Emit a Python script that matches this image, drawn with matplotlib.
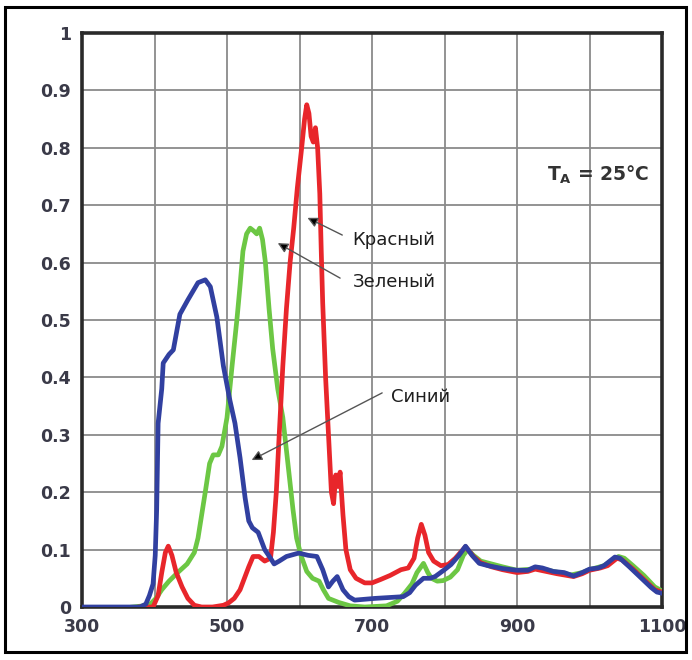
import matplotlib
matplotlib.use("Agg")
import matplotlib.pyplot as plt
from matplotlib.patches import Rectangle

plt.rcParams['font.family'] = ['DejaVu Sans']
plt.rcParams['mathtext.fontset'] = 'custom'
plt.rcParams['mathtext.rm'] = 'DejaVu Sans'
plt.rcParams['mathtext.bf'] = 'DejaVu Sans:bold'

# ---------------- data ----------------
blue_x = [300, 380, 388, 393, 398, 401, 403, 405, 410, 412, 420, 426, 435, 446, 460, 470, 477, 486,
          495, 504, 511, 518, 525, 530, 535, 543, 552, 560, 565, 572, 582, 599, 612, 624, 632, 640,
          646, 652, 660, 668, 676, 704, 743, 752, 760, 771, 780, 787, 800, 809, 820, 829, 838, 848,
          860, 880, 900, 915, 925, 935, 950, 965, 978, 990, 1000, 1012, 1020, 1035, 1042, 1055,
          1070, 1085, 1093, 1100]
blue_y = [0, 0, 0.005, 0.02, 0.04, 0.09, 0.17, 0.32, 0.38, 0.425, 0.44, 0.448, 0.51, 0.535, 0.565,
          0.57, 0.558, 0.505, 0.42, 0.36, 0.32, 0.26, 0.19, 0.15, 0.138, 0.13, 0.1, 0.085, 0.075,
          0.08, 0.088, 0.094, 0.09, 0.088, 0.065, 0.035, 0.045, 0.053, 0.03, 0.018, 0.012, 0.015,
          0.018, 0.025, 0.038, 0.05, 0.05, 0.053, 0.065, 0.074, 0.09, 0.106, 0.09, 0.076, 0.072,
          0.067, 0.064, 0.064, 0.07, 0.068, 0.062, 0.06, 0.054, 0.06, 0.066, 0.068, 0.072, 0.087,
          0.085, 0.07, 0.052, 0.034, 0.026, 0.024]

red_x = [380, 398, 405, 410, 415, 419, 424, 430, 438, 446, 455, 465, 480, 495, 502, 510, 518, 524,
         530, 536, 544, 552, 560, 564, 568, 572, 577, 582, 587, 592, 597, 603, 607, 610, 613, 616,
         619, 622, 625, 628, 630, 632, 636, 640, 644, 647, 650, 653, 656, 660, 664, 670, 678, 690,
         700, 712, 725, 740, 750, 758, 763, 768, 773, 778, 785, 795, 805, 815, 829, 840, 850, 865,
         880, 900, 915, 925, 940, 955, 978, 990, 1000, 1015, 1025, 1038, 1045, 1060, 1075, 1090, 1100]
red_y = [0, 0, 0.02, 0.06, 0.095, 0.106, 0.09, 0.06, 0.035, 0.015, 0.003, 0, 0, 0.003, 0.007, 0.015,
         0.03, 0.05, 0.07, 0.088, 0.088, 0.08, 0.085, 0.13, 0.2, 0.3, 0.42, 0.52, 0.6, 0.66, 0.73,
         0.8, 0.85, 0.875, 0.86, 0.82, 0.81, 0.835, 0.8, 0.72, 0.62, 0.53, 0.4, 0.3, 0.2, 0.18, 0.23,
         0.21, 0.235, 0.16, 0.1, 0.065, 0.05, 0.042, 0.042, 0.048, 0.055, 0.065, 0.068, 0.085, 0.12,
         0.144, 0.125, 0.095, 0.08, 0.072, 0.074, 0.085, 0.105, 0.088, 0.077, 0.07, 0.065, 0.06,
         0.062, 0.066, 0.062, 0.058, 0.053, 0.058, 0.064, 0.068, 0.072, 0.085, 0.082, 0.066, 0.048,
         0.03, 0.026]

green_x = [370, 385, 395, 402, 410, 420, 432, 445, 455, 460, 465, 470, 476, 481, 488, 493, 500, 507,
           514, 518, 522, 527, 532, 537, 541, 545, 549, 553, 558, 563, 570, 577, 584, 591, 596, 602,
           610, 618, 627, 633, 640, 654, 670, 690, 720, 735, 745, 755, 762, 771, 777, 782, 790, 798,
           808, 818, 826, 832, 840, 850, 865, 880, 900, 920, 930, 950, 975, 990, 1000, 1020, 1040,
           1048, 1060, 1075, 1090, 1100]
green_y = [0, 0.002, 0.006, 0.015, 0.03, 0.045, 0.06, 0.075, 0.095, 0.12, 0.16, 0.2, 0.25, 0.265,
           0.265, 0.28, 0.33, 0.42, 0.505, 0.56, 0.62, 0.65, 0.66, 0.655, 0.65, 0.66, 0.64, 0.6, 0.52,
           0.45, 0.38, 0.33, 0.25, 0.17, 0.12, 0.09, 0.062, 0.05, 0.045, 0.03, 0.015, 0.008, 0.002, 0,
           0.002, 0.01, 0.024, 0.04, 0.06, 0.076, 0.06, 0.05, 0.045, 0.046, 0.052, 0.065, 0.09, 0.1,
           0.09, 0.08, 0.075, 0.07, 0.064, 0.066, 0.068, 0.062, 0.056, 0.06, 0.065, 0.072, 0.088,
           0.085, 0.072, 0.055, 0.035, 0.028]

x_ticks = [300, 500, 700, 900, 1100]
y_ticks = [0, 0.1, 0.2, 0.3, 0.4, 0.5, 0.6, 0.7, 0.8, 0.9, 1]
y_ticklabels = ['0', '0.1', '0.2', '0.3', '0.4', '0.5', '0.6', '0.7', '0.8', '0.9', '1']

labels = ['Красный', 'Зеленый', 'Синий']
label_text_xy = [(673, 0.639), (673, 0.566), (726, 0.366)]
label_tail_xy = [(659, 0.648), (656, 0.573), (714, 0.373)]
label_head_xy = [(611, 0.678), (570, 0.634), (534, 0.256)]

# ---------------- figure ----------------
fig = plt.figure(figsize=(6.92, 6.60), dpi=100)
ax = fig.add_axes([82 / 692, 1 - 607 / 660, 580 / 692, 574 / 660])

ax.plot(green_x, green_y, color='#6cc744', lw=3.4, solid_joinstyle='round', zorder=3)
ax.plot(red_x, red_y, color='#e8262b', lw=3.4, solid_joinstyle='round', zorder=4)
ax.plot(blue_x, blue_y, color='#3140a0', lw=3.4, solid_joinstyle='round', zorder=5)

ax.set_xlim(300, 1100)
ax.set_ylim(0, 1)
ax.set_xticks(range(300, 1101, 100))
ax.set_xticklabels([str(v) if v in x_ticks else '' for v in range(300, 1101, 100)])
ax.set_yticks(y_ticks)
ax.set_yticklabels(y_ticklabels)
ax.grid(True, color='#8a8a8a', lw=1.3)
ax.set_axisbelow(True)
ax.tick_params(length=0, pad=8, labelsize=12.5, labelcolor='#3a3a48')
for lab in ax.get_xticklabels() + ax.get_yticklabels():
    lab.set_fontweight('bold')
for s in ax.spines.values():
    s.set_color('#2a2a2a')
    s.set_linewidth(2.6)

for lab, txy, tail, head in zip(labels, label_text_xy, label_tail_xy, label_head_xy):
    ax.annotate('', xy=head, xytext=tail,
                arrowprops=dict(arrowstyle='-|>,head_length=0.6,head_width=0.3',
                                ec='#555555', fc='black', lw=1.0, shrinkA=0, shrinkB=0), zorder=6)
    ax.text(txy[0], txy[1], lab, fontsize=13, color='#1e1e1e', va='center', ha='left', zorder=6)

ax.text(1083, 0.753, r'$\mathbf{T_A}$ = 25°C', fontsize=13.5, fontweight='bold',
        color='#333333', ha='right', va='center')

fig.patches.append(Rectangle((5 / 692, 8 / 660), 681 / 692, 645 / 660, transform=fig.transFigure,
                             fill=False, edgecolor='black', lw=2.2))

fig.savefig('out.png', dpi=100)
